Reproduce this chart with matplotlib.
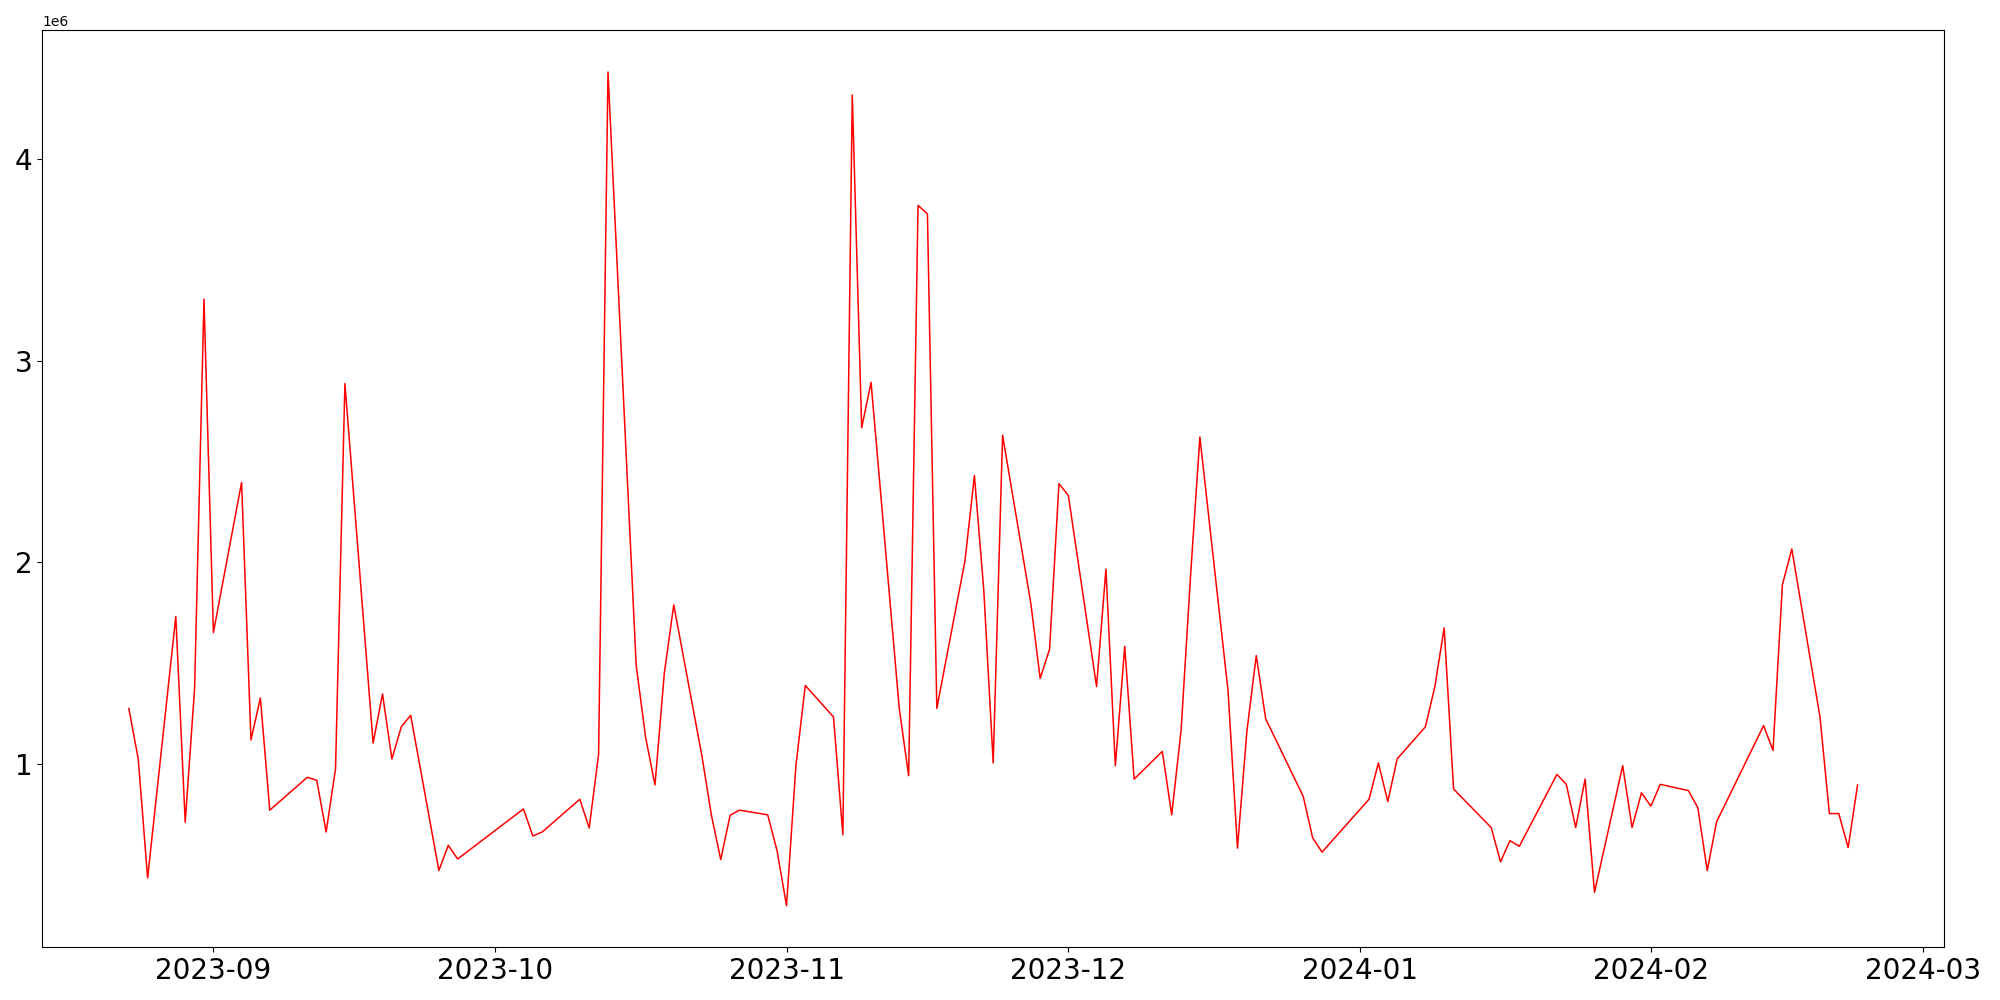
import matplotlib
matplotlib.use("Agg")
import matplotlib.pyplot as plt
import pandas as pd

dates = [
    "2023-08-23", "2023-08-24", "2023-08-25", "2023-08-28", "2023-08-29", "2023-08-30", "2023-08-31",
    "2023-09-01", "2023-09-04", "2023-09-05", "2023-09-06", "2023-09-07", "2023-09-11", "2023-09-12",
    "2023-09-13", "2023-09-14", "2023-09-15", "2023-09-18", "2023-09-19", "2023-09-20", "2023-09-21",
    "2023-09-22", "2023-09-25", "2023-09-26", "2023-09-27", "2023-10-04", "2023-10-05", "2023-10-06",
    "2023-10-10", "2023-10-11", "2023-10-12", "2023-10-13", "2023-10-16", "2023-10-17", "2023-10-18",
    "2023-10-19", "2023-10-20", "2023-10-23", "2023-10-24", "2023-10-25", "2023-10-26", "2023-10-27",
    "2023-10-30", "2023-10-31", "2023-11-01", "2023-11-02", "2023-11-03", "2023-11-06", "2023-11-07",
    "2023-11-08", "2023-11-09", "2023-11-10", "2023-11-13", "2023-11-14", "2023-11-15", "2023-11-16",
    "2023-11-17", "2023-11-20", "2023-11-21", "2023-11-22", "2023-11-23", "2023-11-24", "2023-11-27",
    "2023-11-28", "2023-11-29", "2023-11-30", "2023-12-01", "2023-12-04", "2023-12-05", "2023-12-06",
    "2023-12-07", "2023-12-08", "2023-12-11", "2023-12-12", "2023-12-13", "2023-12-14", "2023-12-15",
    "2023-12-18", "2023-12-19", "2023-12-20", "2023-12-21", "2023-12-22", "2023-12-26", "2023-12-27",
    "2023-12-28", "2024-01-02", "2024-01-03", "2024-01-04", "2024-01-05", "2024-01-08", "2024-01-09",
    "2024-01-10", "2024-01-11", "2024-01-15", "2024-01-16", "2024-01-17", "2024-01-18", "2024-01-22",
    "2024-01-23", "2024-01-24", "2024-01-25", "2024-01-26", "2024-01-29", "2024-01-30", "2024-01-31",
    "2024-02-01", "2024-02-02", "2024-02-05", "2024-02-06", "2024-02-07", "2024-02-08", "2024-02-13",
    "2024-02-14", "2024-02-15", "2024-02-16", "2024-02-19", "2024-02-20", "2024-02-21", "2024-02-22",
    "2024-02-23",
]

# values in millions
values = [
    1.276, 1.026, 0.436, 1.732, 0.712, 1.376, 3.305,
    1.652, 2.396, 1.120, 1.328, 0.772, 0.935, 0.920,
    0.664, 0.977, 2.886, 1.105, 1.348, 1.026, 1.185,
    1.242, 0.473, 0.598, 0.530, 0.778, 0.644, 0.664,
    0.826, 0.684, 1.049, 4.430, 1.490, 1.134, 0.897,
    1.453, 1.789, 1.040, 0.749, 0.527, 0.747, 0.772,
    0.749, 0.570, 0.299, 0.992, 1.390, 1.234, 0.650,
    4.316, 2.667, 2.892, 1.276, 0.943, 3.769, 3.727,
    1.276, 2.009, 2.430, 1.861, 1.006, 2.630, 1.798,
    1.425, 1.570, 2.390, 2.331, 1.385, 1.966, 0.992,
    1.584, 0.926, 1.063, 0.749, 1.168, 1.930, 2.621,
    1.362, 0.584, 1.162, 1.538, 1.225, 0.840, 0.635,
    0.564, 0.826, 1.006, 0.815, 1.026, 1.185, 1.382,
    1.675, 0.877, 0.686, 0.516, 0.621, 0.593, 0.949,
    0.900, 0.686, 0.926, 0.365, 0.992, 0.686, 0.858,
    0.792, 0.900, 0.869, 0.784, 0.473, 0.715, 1.191,
    1.068, 1.889, 2.066, 1.234, 0.755, 0.755, 0.587,
    0.897,
]

x = pd.to_datetime(dates)
y = [v * 1e6 for v in values]

fig = plt.figure(figsize=(20, 10), dpi=100)
ax = fig.add_subplot(111)
ax.plot(x, y, color='red', linewidth=1.1)

plt.xticks(fontsize=20)
plt.yticks(fontsize=20)

fig.subplots_adjust(left=0.0212, right=0.972, bottom=0.0527, top=0.9697)
fig.savefig("out.png", dpi=100)
